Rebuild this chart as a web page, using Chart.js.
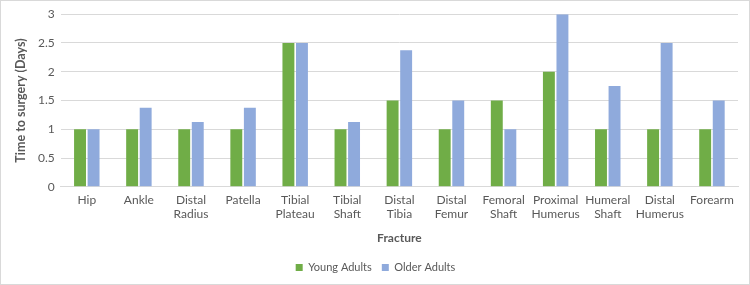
<!DOCTYPE html>
<html>
<head>
<meta charset="utf-8">
<script src="https://cdn.jsdelivr.net/npm/chart.js@4"></script>
<style>
  body { margin: 0; background: #fff; }
  #wrap { position: relative; width: 750px; height: 285px; box-sizing: border-box; border: 1px solid #d9d9d9; }
  #chart { position: absolute; left: 0; top: 0; }
</style>
</head>
<body>
<div id="wrap"><canvas id="chart" width="748" height="283"></canvas></div>
<script>
var categories = ["Hip", "Ankle", ["Distal", "Radius"], "Patella", ["Tibial", "Plateau"], ["Tibial", "Shaft"],
  ["Distal", "Tibia"], ["Distal", "Femur"], ["Femoral", "Shaft"], ["Proximal", "Humerus"], ["Humeral", "Shaft"],
  ["Distal", "Humerus"], "Forearm"];
var youngAdults = [1, 1, 1, 1, 2.5, 1, 1.5, 1, 1.5, 2, 1, 1, 1];
var olderAdults = [1, 1.375, 1.125, 1.375, 2.5, 1.125, 2.375, 1.5, 1, 3, 1.75, 2.5, 1.5];
var yTicks = [0, 0.5, 1, 1.5, 2, 2.5, 3];

Chart.defaults.font.family = "Lato, 'Open Sans', sans-serif";
Chart.defaults.color = "#595959";

var ctx = document.getElementById("chart").getContext("2d");
new Chart(ctx, {
  type: 'bar',
  data: {
    labels: categories,
    datasets: [
      { label: "Young Adults", backgroundColor: "#70ad47", data: youngAdults, barPercentage: 0.88, categoryPercentage: 0.52 },
      { label: "Older Adults", backgroundColor: "#8faadc", data: olderAdults, barPercentage: 0.88, categoryPercentage: 0.52 }
    ]
  },
  options: {
    responsive: false,
    animation: false,
    layout: { padding: { top: 3, right: 11, bottom: 1, left: 12 } },
    plugins: {
      tooltip: { enabled: false },
      legend: {
        position: 'bottom',
        labels: { boxWidth: 7, boxHeight: 7, font: { size: 11 }, padding: 10 }
      }
    },
    scales: {
      x: {
        grid: { display: false, drawTicks: false },
        border: { color: "#d9d9d9" },
        ticks: { font: { size: 12 }, padding: 6, maxRotation: 0, autoSkip: false },
        title: { display: true, text: "Fracture", font: { size: 12, weight: 'bold' }, padding: { top: 3, bottom: 7 } }
      },
      y: {
        min: 0, max: 3,
        afterBuildTicks: function (axis) { axis.ticks = yTicks.map(function (v) { return { value: v }; }); },
        grid: { color: "#d9d9d9", drawTicks: false },
        border: { display: false },
        ticks: { font: { size: 12 }, padding: 6, callback: function (v) { return String(v); } },
        title: { display: true, text: "Time to surgery (Days)", font: { size: 12.5, weight: 'bold' }, padding: { top: 0, bottom: 4 } }
      }
    }
  }
});
</script>
</body>
</html>
